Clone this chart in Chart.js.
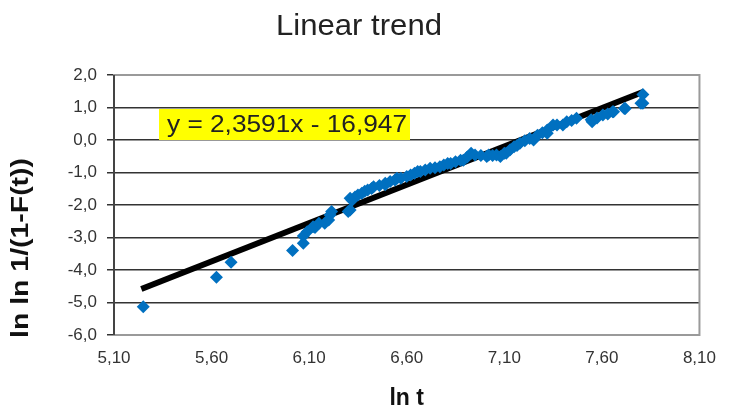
<!DOCTYPE html>
<html>
<head>
<meta charset="utf-8">
<script src="https://cdn.jsdelivr.net/npm/chart.js@4/dist/chart.umd.min.js"></script>
<style>
  body { margin: 0; background: #fff; }
  #wrap { width: 729px; height: 412px; }
</style>
</head>
<body>
<div id="wrap"><canvas id="myChart"></canvas></div>
<script>
// ln t and ln ln 1/(1-F(t))
const lnT = [5.25, 5.625, 5.70, 6.015, 6.07, 6.07, 6.09, 6.12, 6.13, 6.15, 6.18, 6.2, 6.207, 6.215,
  6.30, 6.31, 6.31, 6.32, 6.335, 6.35, 6.37, 6.385, 6.40, 6.42, 6.43, 6.46, 6.49, 6.49, 6.515, 6.54,
  6.55, 6.57, 6.60, 6.62, 6.64, 6.656, 6.67, 6.695, 6.72, 6.745, 6.77, 6.79, 6.81, 6.825, 6.85,
  6.876, 6.89, 6.91, 6.93, 6.95, 6.98, 7.01, 7.02, 7.04, 7.06, 7.08, 7.10, 7.11, 7.13, 7.15, 7.165,
  7.18, 7.205, 7.23, 7.25, 7.27, 7.295, 7.32, 7.32, 7.35, 7.37, 7.40, 7.42, 7.445, 7.47, 7.545,
  7.55, 7.575, 7.605, 7.63, 7.655, 7.66, 7.715, 7.72, 7.80, 7.81, 7.81];
const lnF = [-5.13, -4.22, -3.76, -3.40, -3.18, -2.95, -2.82, -2.67, -2.69, -2.56, -2.56, -2.46, -2.31, -2.20,
  -2.20, -2.15, -1.79, -1.85, -1.75, -1.69, -1.64, -1.58, -1.54, -1.49, -1.44, -1.40, -1.38, -1.33, -1.28, -1.23,
  -1.18, -1.18, -1.12, -1.08, -1.02, -0.97, -0.97, -0.92, -0.87, -0.85, -0.82, -0.77, -0.72, -0.72, -0.67,
  -0.62, -0.62, -0.52, -0.41, -0.46, -0.48, -0.51, -0.46, -0.48, -0.46, -0.51, -0.41, -0.41, -0.30, -0.21, -0.17,
  -0.10, -0.02, 0.05, 0.00, 0.15, 0.22, 0.31, 0.21, 0.46, 0.46, 0.46, 0.56, 0.60, 0.67, 0.62,
  0.56, 0.68, 0.77, 0.80, 0.87, 0.87, 0.97, 0.97, 1.13, 1.13, 1.40];
const slope = 2.3591;
const intercept = -16.947;
const trendX = [5.24, 7.81];
const xTicks = [5.1, 5.6, 6.1, 6.6, 7.1, 7.6, 8.1];
const yTicks = [2, 1, 0, -1, -2, -3, -4, -5, -6];

const points = lnT.map((x, i) => ({ x: x, y: lnF[i] }));
const trend = trendX.map(x => ({ x: x, y: slope * x + intercept }));

const FONT = '"Liberation Sans", Arial, sans-serif';

// draw text squeezed/stretched horizontally to a given width
function fitText(ctx, text, x, y, width) {
  const w = ctx.measureText(text).width;
  ctx.save();
  ctx.translate(x, y);
  ctx.scale(width / w, 1);
  ctx.fillText(text, 0, 0);
  ctx.restore();
}

const decorations = {
  id: 'decorations',
  beforeDatasetsDraw(chart) {
    const { ctx, chartArea: a } = chart;
    ctx.save();
    ctx.strokeStyle = '#9a9a9a';
    ctx.lineWidth = 2;
    ctx.strokeRect(a.left, a.top, a.right - a.left, a.bottom - a.top);
    ctx.strokeStyle = '#444';
    ctx.beginPath();
    ctx.moveTo(a.left, a.top);
    ctx.lineTo(a.left, a.bottom);
    ctx.stroke();
    ctx.restore();
  },
  afterDraw(chart) {
    const ctx = chart.ctx;
    ctx.save();
    ctx.fillStyle = '#222';
    ctx.textBaseline = 'middle';
    ctx.textAlign = 'left';
    ctx.font = '29px ' + FONT;
    fitText(ctx, 'Linear trend', 276, 27, 166);
    // equation label
    ctx.fillStyle = '#ffff00';
    ctx.fillRect(159, 109, 251, 31);
    ctx.fillStyle = '#222';
    ctx.font = '24px ' + FONT;
    fitText(ctx, 'y = 2,3591x - 16,947', 167, 125, 240);
    // y axis title
    ctx.fillStyle = '#111';
    ctx.font = 'bold 24px ' + FONT;
    ctx.translate(21, 338);
    ctx.rotate(-Math.PI / 2);
    fitText(ctx, 'ln ln 1/(1-F(t))', 0, 0, 180);
    ctx.restore();
  }
};

const ctx = document.getElementById('myChart');
new Chart(ctx, {
  type: 'scatter',
  data: {
    datasets: [{
      label: 'data',
      data: points,
      pointStyle: 'rectRot',
      pointRadius: 6.5,
      backgroundColor: '#0070C0',
      borderColor: '#0070C0',
      borderWidth: 0
    }, {
      label: 'trend',
      type: 'line',
      data: trend,
      borderColor: '#000',
      borderWidth: 6,
      pointRadius: 0,
      fill: false
    }]
  },
  options: {
    responsive: true,
    maintainAspectRatio: false,
    animation: false,
    layout: { padding: { top: 75, right: 25, left: 0, bottom: 0 } },
    plugins: {
      legend: { display: false },
      title: { display: false },
      tooltip: { enabled: false }
    },
    scales: {
      x: {
        type: 'linear',
        min: 5.1,
        max: 8.1,
        afterBuildTicks: s => { s.ticks = xTicks.map(v => ({ value: v })); },
        afterFit: s => { s.height = 77; },
        grid: { display: false, drawTicks: false },
        border: { display: false },
        ticks: {
          padding: 13,
          color: '#333',
          font: { family: FONT, size: 17 },
          callback: v => v.toFixed(2).replace('.', ',')
        },
        title: {
          display: true,
          text: 'ln t',
          color: '#111',
          font: { family: FONT, size: 23, weight: 'bold' },
          padding: { top: 9, bottom: 0 }
        }
      },
      y: {
        min: -6,
        max: 2,
        afterBuildTicks: s => { s.ticks = yTicks.map(v => ({ value: v })); },
        afterFit: s => { s.width = 114; },
        grid: { color: '#333', lineWidth: 1.5, drawTicks: true, tickLength: 7 },
        border: { display: false },
        ticks: {
          padding: 10,
          color: '#333',
          font: { family: FONT, size: 17 },
          callback: v => v.toFixed(1).replace('.', ',')
        },
        title: { display: false }
      }
    }
  },
  plugins: [decorations]
});
</script>
</body>
</html>
